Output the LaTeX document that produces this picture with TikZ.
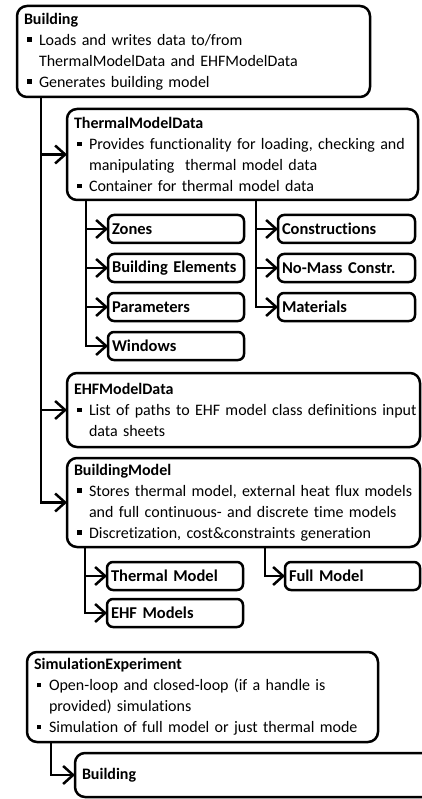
\documentclass[tikz,border=0pt]{standalone}
\usepackage{fontspec}
\setmainfont{Carlito}[Ligatures={NoCommon}]
\usetikzlibrary{arrows.meta}
\usetikzlibrary{positioning}

% bullet lines inside the class boxes
\newcommand{\bitem}[1]{\mbox{\hspace*{3pt}\rule[3.5pt]{4.5pt}{4.5pt}\hspace*{7.5pt}#1}}
\newcommand{\bcont}[1]{\mbox{\hspace*{15pt}#1}}

\tikzset{
  classbox/.style={draw, line width=2.5pt, rounded corners=10pt, anchor=north west,
    outer sep=0pt, align=left, inner xsep=7pt, inner ysep=3pt,
    font=\fontsize{16}{21}\selectfont},
  partbox/.style={draw, line width=2.5pt, rounded corners=6pt, anchor=north west,
    outer sep=0pt, align=left, inner xsep=4pt, inner ysep=0pt, minimum height=28pt,
    font=\fontsize{16.5}{19}\selectfont\bfseries},
  feed/.style={line width=2.5pt, -{Straight Barb[length=10pt,width=18pt]}}
}

\begin{document}
\begin{tikzpicture}[x=1pt,y=-1pt]
            \useasboundingbox (0,0) rectangle (422,799);
            \clip (0,0) rectangle (422,799);

            % Building and its data classes
            \node[classbox, text width=339pt, minimum height=91pt] (bld) at (17,6)
                {\textbf{Building}\\
                 \bitem{Loads and writes data to/from}\\
                 \bcont{ThermalModelData and EHFModelData}\\
                 \bitem{Generates building model}};
            \node[classbox, text width=337pt, minimum height=91pt] (tmd) at (67,109)
                {\textbf{ThermalModelData}\\
                 \bitem{Provides functionality for loading, checking and}\\
                 \bcont{manipulating\ \ thermal model data}\\
                 \bitem{Container for thermal model data}};
            \node[classbox, text width=339pt, minimum height=74pt] (ehf) at (67,373)
                {\textbf{EHFModelData}\\
                 \bitem{List of paths to EHF model class definitions input}\\
                 \bcont{data sheets}};
            \node[classbox, text width=339pt, minimum height=89pt] (bm) at (67,458)
                {\textbf{BuildingModel}\\
                 \bitem{Stores thermal model, external heat flux models}\\
                 \bcont{and full continuous- and discrete time models}\\
                 \bitem{Discretization, cost\&constraints generation}};

            % Thermal model data parts
            \node[partbox, text width=128pt] (zones) at (108,215) {Zones};
            \node[partbox, text width=128pt, below=11pt of zones] (belm) {Building Elements};
            \node[partbox, text width=128pt, below=11pt of belm] (param) {Parameters};
            \node[partbox, text width=128pt, below=11pt of param] (win) {Windows};
            \node[partbox, text width=129pt, right=34pt of zones] (constr) {Constructions};
            \node[partbox, text width=129pt, below=11pt of constr] (nomass) {No-Mass Constr.};
            \node[partbox, text width=129pt, below=11pt of nomass] (mat) {Materials};

            % Building model parts
            \node[partbox, text width=128pt] (tm) at (107,562) {Thermal Model};
            \node[partbox, text width=128pt, below=9pt of tm] (ehfm) {EHF Models};
            \node[partbox, text width=127pt] (fm) at (285,562) {Full Model};

            % Simulation
            \node[classbox, text width=337pt, minimum height=90pt] (sim) at (27,652)
                {\textbf{SimulationExperiment}\\
                 \bitem{Open-loop and closed-loop (if a handle is}\\
                 \bcont{provided) simulations}\\
                 \bitem{Simulation of full model or just thermal mode}};
            \node[classbox, text width=366pt, minimum height=44pt] (fin) at (75,753)
                {\textbf{Building}\\[4pt]};

            % Links
            \coordinate (t0) at (41,97);
            \draw[feed] (t0) |- (bm.west);
            \draw[feed] (t0 |- tmd.west) -- (tmd.west);
            \draw[feed] (t0 |- ehf.west) -- (ehf.west);

            \coordinate (t1) at (86,200);
            \draw[feed] (t1) |- (win.west);
            \draw[feed] (t1 |- zones.west) -- (zones.west);
            \draw[feed] (t1 |- belm.west) -- (belm.west);
            \draw[feed] (t1 |- param.west) -- (param.west);

            \coordinate (t2) at (256,200);
            \draw[feed] (t2) |- (mat.west);
            \draw[feed] (t2 |- constr.west) -- (constr.west);
            \draw[feed] (t2 |- nomass.west) -- (nomass.west);

            \coordinate (t3) at (85,547);
            \draw[feed] (t3) |- (ehfm.west);
            \draw[feed] (t3 |- tm.west) -- (tm.west);

            \coordinate (t4) at (265,547);
            \draw[feed] (t4) |- (fm.west);

            \coordinate (t5) at (51,742);
            \draw[feed] (t5) |- (fin.west);

        \end{tikzpicture}
\end{document}
